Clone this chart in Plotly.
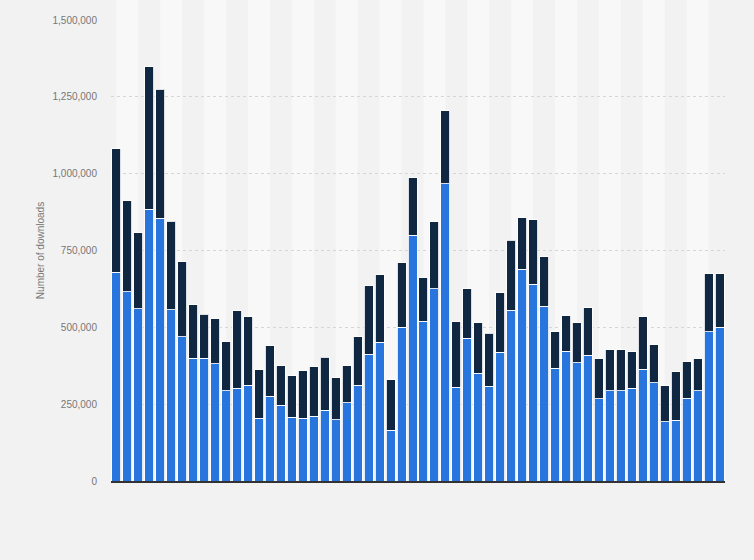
import plotly.graph_objects as go

categories = [str(i) for i in range(1, 57)]

# bottom segment (blue)
series_a = [680000, 615000, 560000, 884000, 855000, 558000, 470000, 399000, 399000, 381000,
            293000, 302000, 311000, 204000, 275000, 246000, 208000, 204000, 210000, 230000,
            200000, 254000, 311000, 412000, 452000, 165000, 501000, 800000, 519000, 626000,
            967000, 305000, 465000, 350000, 309000, 419000, 556000, 689000, 640000, 569000,
            367000, 423000, 384000, 409000, 267000, 293000, 293000, 302000, 364000, 319000,
            192000, 197000, 270000, 293000, 485000, 501000]
# totals (top of stacked bar)
totals = [1081000, 912000, 807000, 1348000, 1274000, 846000, 713000, 573000, 542000, 528000,
          453000, 554000, 534000, 362000, 440000, 375000, 343000, 359000, 372000, 402000,
          336000, 375000, 469000, 635000, 671000, 330000, 710000, 986000, 662000, 844000,
          1205000, 518000, 625000, 515000, 480000, 612000, 783000, 856000, 850000, 729000,
          486000, 538000, 515000, 564000, 398000, 427000, 427000, 421000, 534000, 443000,
          310000, 356000, 388000, 398000, 674000, 674000]
series_b = [t - a for t, a in zip(totals, series_a)]

y_ticks = [0, 250000, 500000, 750000, 1000000, 1250000, 1500000]
y_title = "Number of downloads"

blue = "#2876dd"
navy = "#0f2741"

fig = go.Figure()
fig.add_trace(go.Bar(x=categories, y=series_a, marker=dict(color=blue, line=dict(color="rgba(255,255,255,0.85)", width=1)),
                     showlegend=False))
fig.add_trace(go.Bar(x=categories, y=series_b, marker=dict(color=navy, line=dict(color="rgba(255,255,255,0.85)", width=1)),
                     showlegend=False))

n = len(categories)
shapes = []
for k in range(0, n, 4):
    x0 = (k + 0.5) / n
    x1 = min(k + 2.5, n) / n
    shapes.append(dict(type="rect", xref="paper", yref="paper", x0=x0, x1=x1,
                       y0=0, y1=1 + 20 / 461, fillcolor="#f8f8f8", line=dict(width=0), layer="below"))

fig.update_layout(
    barmode="stack",
    bargap=0.18,
    width=754, height=560,
    margin=dict(l=111, r=29, t=20, b=79, autoexpand=False),
    paper_bgcolor="#f2f2f2",
    plot_bgcolor="#f2f2f2",
    font=dict(family="Liberation Sans, Arial, sans-serif", color="#777777", size=10),
    shapes=shapes,
)
fig.update_xaxes(showticklabels=False, showgrid=False, showline=True, linecolor="#333333",
                 linewidth=1.5, ticks="", zeroline=False)
fig.update_yaxes(range=[0, 1500000], tickvals=y_ticks, tickformat=",", showgrid=True,
                 gridcolor="#d6d6d6", griddash="dot", gridwidth=1, zeroline=False,
                 ticklabelstandoff=13, tickfont=dict(size=10, color="#777777"),
                 title=dict(text=y_title, font=dict(size=10, color="#777777"), standoff=6))

fig.write_html("out.html", config={"displayModeBar": False},
               post_script="document.body.style.margin='0';document.body.style.overflow='hidden';")
